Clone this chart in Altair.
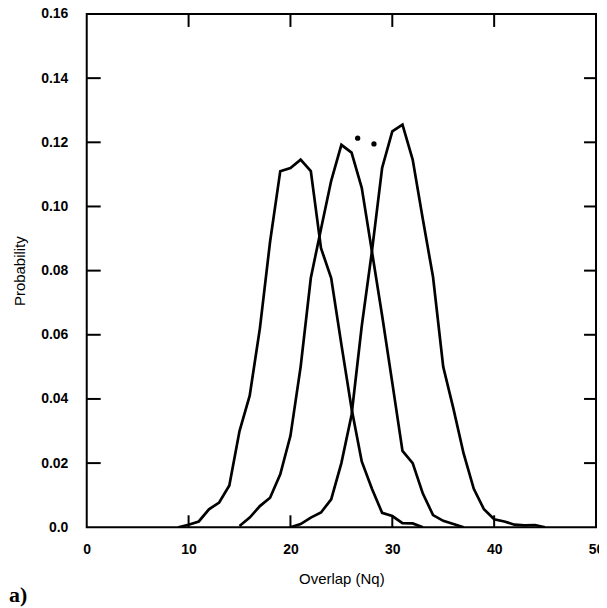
import altair as alt
import pandas as pd

# Series values
x_a = [9, 10, 11, 12, 13, 14, 15, 16, 17, 18, 19, 20, 21, 22, 23, 24, 25, 26, 27, 28, 29, 30, 31, 32, 33]
y_a = [0.0, 0.0008, 0.0018, 0.0056, 0.0077, 0.013, 0.030, 0.041, 0.062, 0.089, 0.111, 0.112, 0.1146,
       0.111, 0.087, 0.0777, 0.057, 0.037, 0.0205, 0.012, 0.0045, 0.0035, 0.0013, 0.0012, 0.0]

x_b = [15, 16, 17, 18, 19, 20, 21, 22, 23, 24, 25, 26, 27, 28, 29, 30, 31, 32, 33, 34, 35, 36, 37]
y_b = [0.0004, 0.003, 0.0066, 0.0092, 0.0165, 0.0285, 0.050, 0.0777, 0.093, 0.108, 0.1192, 0.1168,
       0.1058, 0.086, 0.066, 0.045, 0.0238, 0.020, 0.0105, 0.0038, 0.002, 0.001, 0.0]

x_c = [20, 21, 22, 23, 24, 25, 26, 27, 28, 29, 30, 31, 32, 33, 34, 35, 36, 37, 38, 39, 40, 41, 42, 43, 44, 45]
y_c = [0.0, 0.001, 0.003, 0.0046, 0.0087, 0.020, 0.035, 0.0627, 0.086, 0.112, 0.1234, 0.1255, 0.1146,
       0.096, 0.078, 0.050, 0.037, 0.023, 0.012, 0.0056, 0.0025, 0.0018, 0.0008, 0.0006, 0.0007, 0.0]

# Two small dots visible above the peaks
dot_x = [26.6, 28.2]
dot_y = [0.1213, 0.1195]

x_label_values = [0, 10, 20, 30, 40, 50]
x_tick_values = [10, 20, 30, 40]
y_label_values = [0.0, 0.02, 0.04, 0.06, 0.08, 0.10, 0.12, 0.14, 0.16]
y_tick_values = [0.02, 0.04, 0.06, 0.08, 0.10, 0.12, 0.14]

W, H = 511, 515

rows = []
for name, xs, ys in (("a", x_a, y_a), ("b", x_b, y_b), ("c", x_c, y_c)):
    for xv, yv in zip(xs, ys):
        rows.append({"series": name, "x": xv, "y": yv})
df = pd.DataFrame(rows)

xscale = alt.Scale(domain=[0, 50], nice=False, zero=False)
yscale = alt.Scale(domain=[0, 0.16], nice=False)

lines = alt.Chart(df).mark_line(color="black", strokeWidth=2.7, clip=True).encode(
    x=alt.X("x:Q", scale=xscale,
            axis=alt.Axis(values=x_label_values, title="Overlap (Nq)", grid=False, domain=False,
                          ticks=False, tickSize=0, labelFlush=False, labelPadding=15,
                          labelFontSize=14, labelFontWeight="bold", labelFont="Liberation Sans",
                          labelColor="black", titleFont="Liberation Sans", titleFontSize=15,
                          titleFontWeight="normal", titleColor="black", titlePadding=15)),
    y=alt.Y("y:Q", scale=yscale,
            axis=alt.Axis(values=y_label_values, title="Probability", grid=False, domain=False,
                          ticks=False, tickSize=0, labelFlush=False, labelPadding=19,
                          labelExpr="datum.value == 0 ? '0.0' : format(datum.value, '.2f')",
                          labelFontSize=14, labelFontWeight="bold", labelFont="Liberation Sans",
                          labelColor="black", titleFont="Liberation Sans", titleFontSize=15,
                          titleFontWeight="normal", titleColor="black", titlePadding=13)),
    detail="series:N",
)

dots = alt.Chart(pd.DataFrame({"x": dot_x, "y": dot_y})).mark_point(
    filled=True, color="black", size=28, opacity=1
).encode(x=alt.X("x:Q", scale=xscale, axis=None), y=alt.Y("y:Q", scale=yscale, axis=None))

ydf = pd.DataFrame({"y": y_tick_values})
xdf = pd.DataFrame({"x": x_tick_values})

left_ticks = alt.Chart(ydf).mark_rule(color="black", strokeWidth=2).encode(
    y=alt.Y("y:Q", scale=yscale, axis=None), x=alt.value(0), x2=alt.value(14))
right_ticks = alt.Chart(ydf).mark_rule(color="black", strokeWidth=2).encode(
    y=alt.Y("y:Q", scale=yscale, axis=None), x=alt.value(W - 12), x2=alt.value(W))
bottom_ticks = alt.Chart(xdf).mark_rule(color="black", strokeWidth=2).encode(
    x=alt.X("x:Q", scale=xscale, axis=None), y=alt.value(H), y2=alt.value(H - 12))
top_ticks = alt.Chart(xdf).mark_rule(color="black", strokeWidth=2).encode(
    x=alt.X("x:Q", scale=xscale, axis=None), y=alt.value(0), y2=alt.value(13))

label = alt.Chart(pd.DataFrame({"t": ["a)"]})).mark_text(
    font="Liberation Serif", fontWeight="bold", fontSize=22, align="left",
    baseline="alphabetic", color="black"
).encode(text="t:N", x=alt.value(-78), y=alt.value(590))

chart = alt.layer(lines, dots, left_ticks, right_ticks, bottom_ticks, top_ticks, label).resolve_axis(
    x="independent", y="independent"
).properties(
    width=W, height=H,
    background="white",
    autosize=alt.AutoSizeParams(type="none"),
    padding={"left": 79, "top": 5, "right": 3, "bottom": 80},
).configure_view(stroke="black", strokeWidth=2)

chart.save("out.html", embed_options={"renderer": "svg", "actions": False})
